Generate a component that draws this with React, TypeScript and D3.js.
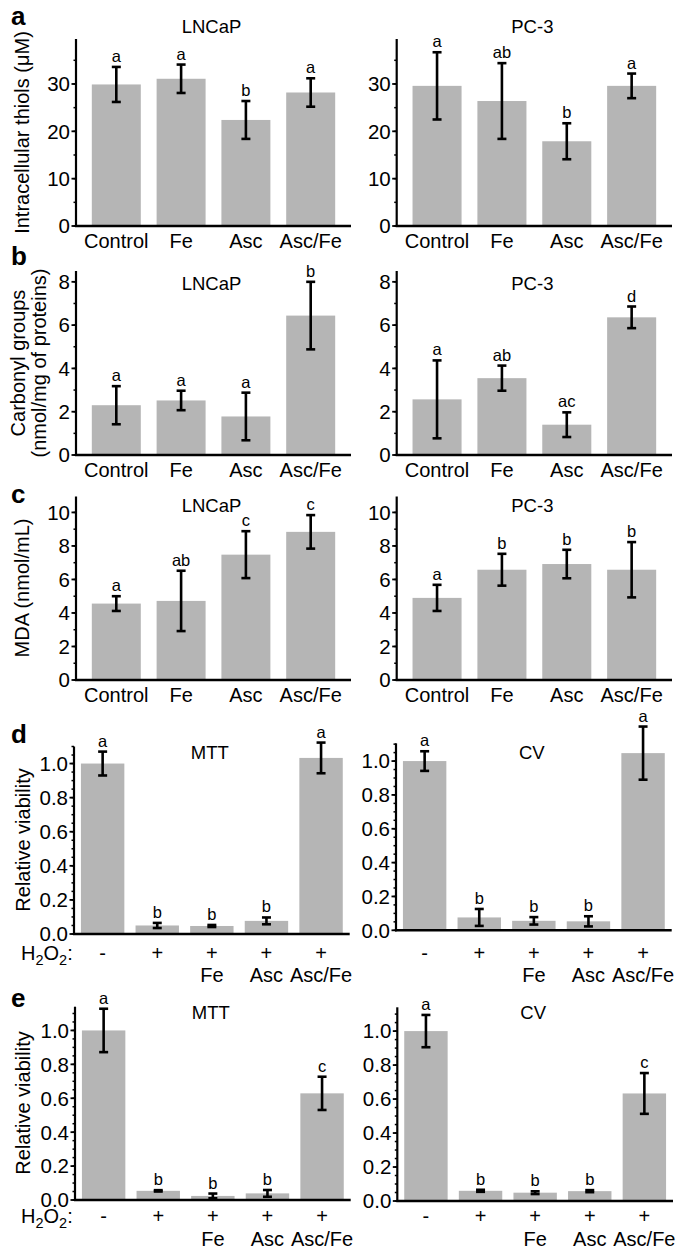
import React from "react";
import * as d3 from "d3";

// ---------- data ----------
const treatments = ["Control", "Fe", "Asc", "Asc/Fe"];

const thiolsLNCaP = [29.9, 31.1, 22.4, 28.2];
const thiolsLNCaPErr = [3.7, 3.0, 4.0, 3.0];
const thiolsLNCaPSig = ["a", "a", "b", "a"];
const thiolsPC3 = [29.6, 26.4, 17.9, 29.6];
const thiolsPC3Err = [7.1, 8.0, 3.8, 2.6];
const thiolsPC3Sig = ["a", "ab", "b", "a"];

const carbonylLNCaP = [2.3, 2.52, 1.78, 6.44];
const carbonylLNCaPErr = [0.88, 0.45, 1.1, 1.56];
const carbonylLNCaPSig = ["a", "a", "a", "b"];
const carbonylPC3 = [2.57, 3.55, 1.4, 6.36];
const carbonylPC3Err = [1.8, 0.58, 0.57, 0.5];
const carbonylPC3Sig = ["a", "ab", "ac", "d"];

const mdaLNCaP = [4.56, 4.72, 7.48, 8.84];
const mdaLNCaPErr = [0.44, 1.8, 1.4, 1.0];
const mdaLNCaPSig = ["a", "ab", "c", "c"];
const mdaPC3 = [4.9, 6.58, 6.92, 6.58];
const mdaPC3Err = [0.78, 0.95, 0.85, 1.65];
const mdaPC3Sig = ["a", "b", "b", "b"];

const h2o2Signs = ["-", "+", "+", "+", "+"];
const h2o2Treat = ["", "", "Fe", "Asc", "Asc/Fe"];

const mttD = [1.0, 0.05, 0.047, 0.077, 1.033];
const mttDErr = [0.07, 0.015, 0.006, 0.02, 0.09];
const mttDSig = ["a", "b", "b", "b", "a"];
const cvD = [1.0, 0.076, 0.056, 0.053, 1.047];
const cvDErr = [0.058, 0.05, 0.022, 0.03, 0.157];
const cvDSig = ["a", "b", "b", "b", "a"];

const mttE = [1.0, 0.054, 0.024, 0.039, 0.629];
const mttEErr = [0.128, 0.004, 0.014, 0.02, 0.098];
const mttESig = ["a", "b", "b", "b", "c"];
const cvE = [1.0, 0.06, 0.049, 0.058, 0.633];
const cvEErr = [0.095, 0.006, 0.008, 0.006, 0.12];
const cvESig = ["a", "b", "b", "b", "c"];

const ticksThiols = [0, 10, 20, 30];
const ticksCarbonyl = [0, 2, 4, 6, 8];
const ticksMDA = [0, 2, 4, 6, 8, 10];
const ticksViability = [0, 0.2, 0.4, 0.6, 0.8, 1.0];

// ---------- styles ----------
const FONT = "Arimo, 'Liberation Sans', Arial, Helvetica, sans-serif";
const BAR = "#b5b5b5";
const TICK_FS = 20.5;
const CAT_FS = 20;

type PanelProps = {
  x0: number;
  x1: number;
  yBase: number;
  yTop: number;
  max: number;
  ticks: number[];
  minorStep: number;
  fmt: (v: number) => string;
  n: number;
  vals: number[];
  errs: number[];
  sig: string[];
  title: string;
  titleY: number;
  padIn: number;
  padOut: number;
  cats?: string[];
};

function Panel(p: PanelProps) {
  const x = d3
    .scaleBand<number>()
    .domain(d3.range(p.n))
    .range([p.x0, p.x1])
    .paddingInner(p.padIn)
    .paddingOuter(p.padOut);
  const y = d3.scaleLinear().domain([0, p.max]).range([p.yBase, p.yTop]);
  const minor = d3.range(0, p.max + 1e-9, p.minorStep);
  const bw = x.bandwidth();
  return (
    <g>
      {p.vals.map((v, i) => (
        <rect key={"b" + i} x={x(i)} y={y(v)} width={bw} height={p.yBase - y(v)} fill={BAR} />
      ))}
      {p.vals.map((v, i) => {
        const cx = (x(i) as number) + bw / 2;
        const hi = y(v + p.errs[i]);
        const lo = y(Math.max(0, v - p.errs[i]));
        return (
          <g key={"e" + i} stroke="#000" strokeWidth={2.6}>
            <line x1={cx} x2={cx} y1={hi} y2={lo} />
            <line x1={cx - 4.5} x2={cx + 4.5} y1={hi} y2={hi} />
            <line x1={cx - 4.5} x2={cx + 4.5} y1={lo} y2={lo} />
          </g>
        );
      })}
      {p.vals.map((v, i) => (
        <text
          key={"s" + i}
          x={(x(i) as number) + bw / 2}
          y={y(v + p.errs[i]) - 5}
          textAnchor="middle"
          fontSize={16.5}
          fontFamily={FONT}
        >
          {p.sig[i]}
        </text>
      ))}
      {minor.map((t, i) => (
        <line key={"m" + i} x1={p.x0 - 2.5} x2={p.x0} y1={y(t)} y2={y(t)} stroke="#000" strokeWidth={1.5} />
      ))}
      {p.ticks.map((t, i) => (
        <g key={"t" + i}>
          <line x1={p.x0 - 4.5} x2={p.x0} y1={y(t)} y2={y(t)} stroke="#000" strokeWidth={1.8} />
          <text
            x={p.x0 - 6}
            y={y(t)}
            dy="0.36em"
            textAnchor="end"
            fontSize={TICK_FS}
            fontFamily={FONT}
          >
            {p.fmt(t)}
          </text>
        </g>
      ))}
      <line x1={p.x0} x2={p.x0} y1={p.yBase + 1} y2={p.yTop} stroke="#000" strokeWidth={2.2} />
      <line x1={p.x0 - 1} x2={p.x1} y1={p.yBase} y2={p.yBase} stroke="#000" strokeWidth={2.4} />
      <text x={(p.x0 + p.x1) / 2 - 2} y={p.titleY} textAnchor="middle" fontSize={18.5} fontFamily={FONT}>
        {p.title}
      </text>
      {p.cats &&
        p.cats.map((c, i) => (
          <text
            key={"c" + i}
            x={(x(i) as number) + bw / 2}
            y={p.yBase + 22}
            textAnchor="middle"
            fontSize={CAT_FS}
            fontFamily={FONT}
          >
            {c}
          </text>
        ))}
    </g>
  );
}

function TreatRows({ x0, x1, y1, y2 }: { x0: number; x1: number; y1: number; y2: number }) {
  const x = d3
    .scaleBand<number>()
    .domain(d3.range(h2o2Signs.length))
    .range([x0, x1])
    .paddingInner(0.205)
    .paddingOuter(0.127);
  const bw = x.bandwidth();
  return (
    <g fontFamily={FONT} fontSize={CAT_FS} textAnchor="middle">
      {h2o2Signs.map((s, i) => (
        <text key={"h" + i} x={(x(i) as number) + bw / 2} y={y1}>
          {s}
        </text>
      ))}
      {h2o2Treat.map((s, i) => (
        <text key={"r" + i} x={(x(i) as number) + bw / 2} y={y2}>
          {s}
        </text>
      ))}
    </g>
  );
}

function H2O2({ y }: { y: number }) {
  return (
    <text x={21} y={y} fontSize={20} fontFamily={FONT}>
      H
      <tspan fontSize={14.5} dy={5}>
        2
      </tspan>
      <tspan dy={-5}>O</tspan>
      <tspan fontSize={14.5} dy={5}>
        2
      </tspan>
      <tspan dy={-5}>:</tspan>
    </text>
  );
}

function YLabel({ x, y, lines }: { x: number[]; y: number; lines: string[] }) {
  return (
    <g>
      {lines.map((l, i) => (
        <text
          key={i}
          transform={`translate(${x[i]},${y}) rotate(-90)`}
          textAnchor="middle"
          dominantBaseline="central"
          fontSize={20}
          fontFamily={FONT}
        >
          {l}
        </text>
      ))}
    </g>
  );
}

function PanelLetter({ t, y }: { t: string; y: number }) {
  return (
    <text x={11} y={y} fontSize={26} fontWeight="bold" fontFamily={FONT}>
      {t}
    </text>
  );
}

export default function App() {
  const intF = (v: number) => d3.format("d")(v);
  const decF = (v: number) => d3.format(".1f")(v);
  const L = { x0: 76, x1: 351 };
  const R = { x0: 396.7, x1: 672 };
  const four = { n: 4, padIn: 0.244, padOut: 0.244, cats: treatments };
  const five = { n: 5, padIn: 0.205, padOut: 0.127 };
  return (
    <svg
      width={685}
      height={1252}
      style={{ position: "absolute", left: 0, top: 0, background: "#fff" }}
    >
      <rect width={685} height={1252} fill="#fff" />
      {/* row a */}
      <PanelLetter t="a" y={25} />
      <YLabel x={[22]} y={132.5} lines={["Intracellular thiols (\u03BCM)"]} />
      <Panel {...L} {...four} yBase={226} yTop={39} max={39.5} ticks={ticksThiols} minorStep={5} fmt={intF}
        vals={thiolsLNCaP} errs={thiolsLNCaPErr} sig={thiolsLNCaPSig} title="LNCaP" titleY={33} />
      <Panel {...R} {...four} yBase={226} yTop={39} max={39.5} ticks={ticksThiols} minorStep={5} fmt={intF}
        vals={thiolsPC3} errs={thiolsPC3Err} sig={thiolsPC3Sig} title="PC-3" titleY={33} />
      {/* row b */}
      <PanelLetter t="b" y={265} />
      <YLabel x={[18, 39]} y={363} lines={["Carbonyl groups", "(nmol/mg of proteins)"]} />
      <Panel {...L} {...four} yBase={455} yTop={271} max={8.5} ticks={ticksCarbonyl} minorStep={1} fmt={intF}
        vals={carbonylLNCaP} errs={carbonylLNCaPErr} sig={carbonylLNCaPSig} title="LNCaP" titleY={290} />
      <Panel {...R} {...four} yBase={455} yTop={271} max={8.5} ticks={ticksCarbonyl} minorStep={1} fmt={intF}
        vals={carbonylPC3} errs={carbonylPC3Err} sig={carbonylPC3Sig} title="PC-3" titleY={290} />
      {/* row c */}
      <PanelLetter t="c" y={503} />
      <YLabel x={[22]} y={588} lines={["MDA (nmol/mL)"]} />
      <Panel {...L} {...four} yBase={680} yTop={496.5} max={10.95} ticks={ticksMDA} minorStep={1} fmt={intF}
        vals={mdaLNCaP} errs={mdaLNCaPErr} sig={mdaLNCaPSig} title="LNCaP" titleY={512} />
      <Panel {...R} {...four} yBase={680} yTop={496.5} max={10.95} ticks={ticksMDA} minorStep={1} fmt={intF}
        vals={mdaPC3} errs={mdaPC3Err} sig={mdaPC3Sig} title="PC-3" titleY={512} />
      {/* row d */}
      <PanelLetter t="d" y={743} />
      <YLabel x={[23]} y={840} lines={["Relative viability"]} />
      <Panel x0={74} x1={349.7} {...five} yBase={934} yTop={746.5} max={1.1} ticks={ticksViability} minorStep={0.05} fmt={decF}
        vals={mttD} errs={mttDErr} sig={mttDSig} title="MTT" titleY={759} />
      <Panel x0={396} x1={671.7} {...five} yBase={930.3} yTop={743.3} max={1.105} ticks={ticksViability} minorStep={0.05} fmt={decF}
        vals={cvD} errs={cvDErr} sig={cvDSig} title="CV" titleY={759} />
      <H2O2 y={959.5} />
      <TreatRows x0={74} x1={349.7} y1={959.5} y2={982} />
      <TreatRows x0={396} x1={671.7} y1={959.5} y2={982} />
      {/* row e */}
      <PanelLetter t="e" y={1007} />
      <YLabel x={[23]} y={1103} lines={["Relative viability"]} />
      <Panel x0={75} x1={350.7} {...five} yBase={1200} yTop={1006.7} max={1.14} ticks={ticksViability} minorStep={0.05} fmt={decF}
        vals={mttE} errs={mttEErr} sig={mttESig} title="MTT" titleY={1019} />
      <Panel x0={397.3} x1={673} {...five} yBase={1201} yTop={1007.3} max={1.14} ticks={ticksViability} minorStep={0.05} fmt={decF}
        vals={cvE} errs={cvEErr} sig={cvESig} title="CV" titleY={1019} />
      <H2O2 y={1222.5} />
      <TreatRows x0={75} x1={350.7} y1={1222.5} y2={1245.5} />
      <TreatRows x0={397.3} x1={673} y1={1222.5} y2={1245.5} />
    </svg>
  );
}
